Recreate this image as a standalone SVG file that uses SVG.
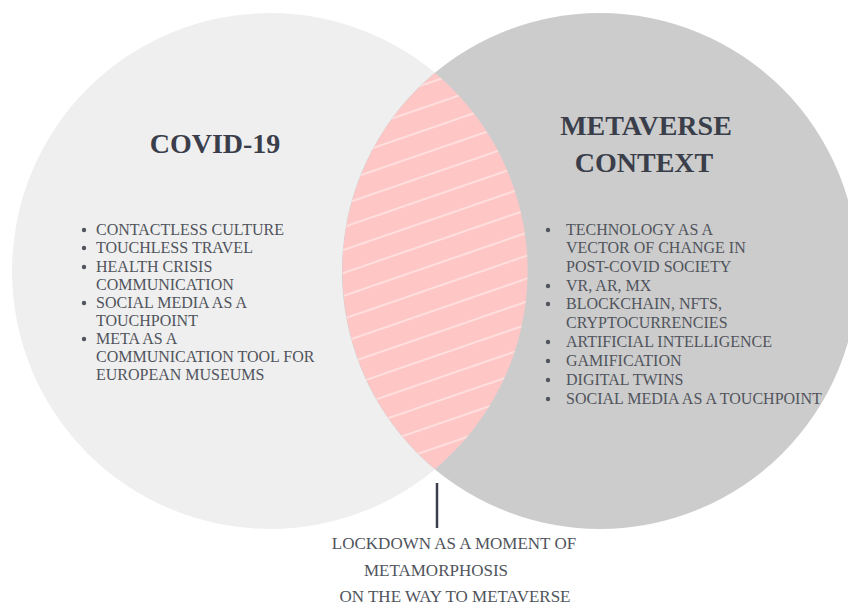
<svg xmlns="http://www.w3.org/2000/svg" width="848" height="606" viewBox="0 0 848 606">
  <style>
    .title { font-family: "Liberation Serif", "Times New Roman", serif; font-weight: bold; font-size: 28px; fill: #3a3e4a; text-anchor: middle; }
    .item { font-family: "Liberation Serif", "Times New Roman", serif; font-size: 16px; fill: #50545c; }
    .bul { fill: #50545c; }
    .cap { font-family: "Liberation Serif", "Times New Roman", serif; font-size: 17px; fill: #50545c; text-anchor: middle; }
  </style>
  <defs>
    <pattern id="stripes" patternUnits="userSpaceOnUse" width="40" height="21.7" patternTransform="rotate(-19)">
      <line x1="0" y1="1" x2="40" y2="1" stroke="#ffffff" stroke-opacity="0.85" stroke-width="1.2"/>
    </pattern>
  </defs>
  <rect width="848" height="606" fill="#ffffff"/>

  <g id="covid">
    <circle cx="270" cy="271" r="258" fill="#efefef"/>
    <text class="title" x="215" y="153">COVID-19</text>
    <g class="item">
      <text x="96" y="235">CONTACTLESS CULTURE</text>
      <text x="96" y="253">TOUCHLESS TRAVEL</text>
      <text x="96" y="272">HEALTH CRISIS</text>
      <text x="96" y="290">COMMUNICATION</text>
      <text x="96" y="308">SOCIAL MEDIA AS A</text>
      <text x="96" y="326">TOUCHPOINT</text>
      <text x="96" y="344">META AS A</text>
      <text x="96" y="362">COMMUNICATION TOOL FOR</text>
      <text x="96" y="380">EUROPEAN MUSEUMS</text>
    </g>
    <g class="bul">
      <circle cx="84" cy="230" r="2.2"/>
      <circle cx="84" cy="248" r="2.2"/>
      <circle cx="84" cy="267" r="2.2"/>
      <circle cx="84" cy="303" r="2.2"/>
      <circle cx="84" cy="339" r="2.2"/>
    </g>
  </g>

  <g id="metaverse">
    <circle cx="600" cy="271" r="258" fill="#cccccc"/>
    <text class="title" x="646" y="135">METAVERSE</text>
    <text class="title" x="644" y="172">CONTEXT</text>
    <g class="item">
      <text x="566" y="235">TECHNOLOGY AS A</text>
      <text x="566" y="253">VECTOR OF CHANGE IN</text>
      <text x="566" y="272">POST-COVID SOCIETY</text>
      <text x="566" y="291">VR, AR, MX</text>
      <text x="566" y="309">BLOCKCHAIN, NFTS,</text>
      <text x="566" y="328">CRYPTOCURRENCIES</text>
      <text x="566" y="347">ARTIFICIAL INTELLIGENCE</text>
      <text x="566" y="366">GAMIFICATION</text>
      <text x="566" y="385">DIGITAL TWINS</text>
      <text x="566" y="404">SOCIAL MEDIA AS A TOUCHPOINT</text>
    </g>
    <g class="bul">
      <circle cx="548" cy="230" r="2.2"/>
      <circle cx="548" cy="286" r="2.2"/>
      <circle cx="548" cy="304" r="2.2"/>
      <circle cx="548" cy="342" r="2.2"/>
      <circle cx="548" cy="361" r="2.2"/>
      <circle cx="548" cy="380" r="2.2"/>
      <circle cx="548" cy="399" r="2.2"/>
    </g>
  </g>

  <g id="overlap">
    <path d="M435 73 A258 258 0 0 1 435 469 A258 258 0 0 1 435 73 Z" fill="#ffc6c6"/>
    <path d="M435 73 A258 258 0 0 1 435 469 A258 258 0 0 1 435 73 Z" fill="url(#stripes)"/>
  </g>

  <g id="connectors">
    <line x1="437" y1="483" x2="437" y2="528" stroke="#3a3e4a" stroke-width="2.5"/>
  </g>

  <g id="lockdown">
    <text class="cap" x="454" y="549">LOCKDOWN AS A MOMENT OF</text>
    <text class="cap" x="436" y="576">METAMORPHOSIS</text>
    <text class="cap" x="455" y="602">ON THE WAY TO METAVERSE</text>
  </g>
</svg>
